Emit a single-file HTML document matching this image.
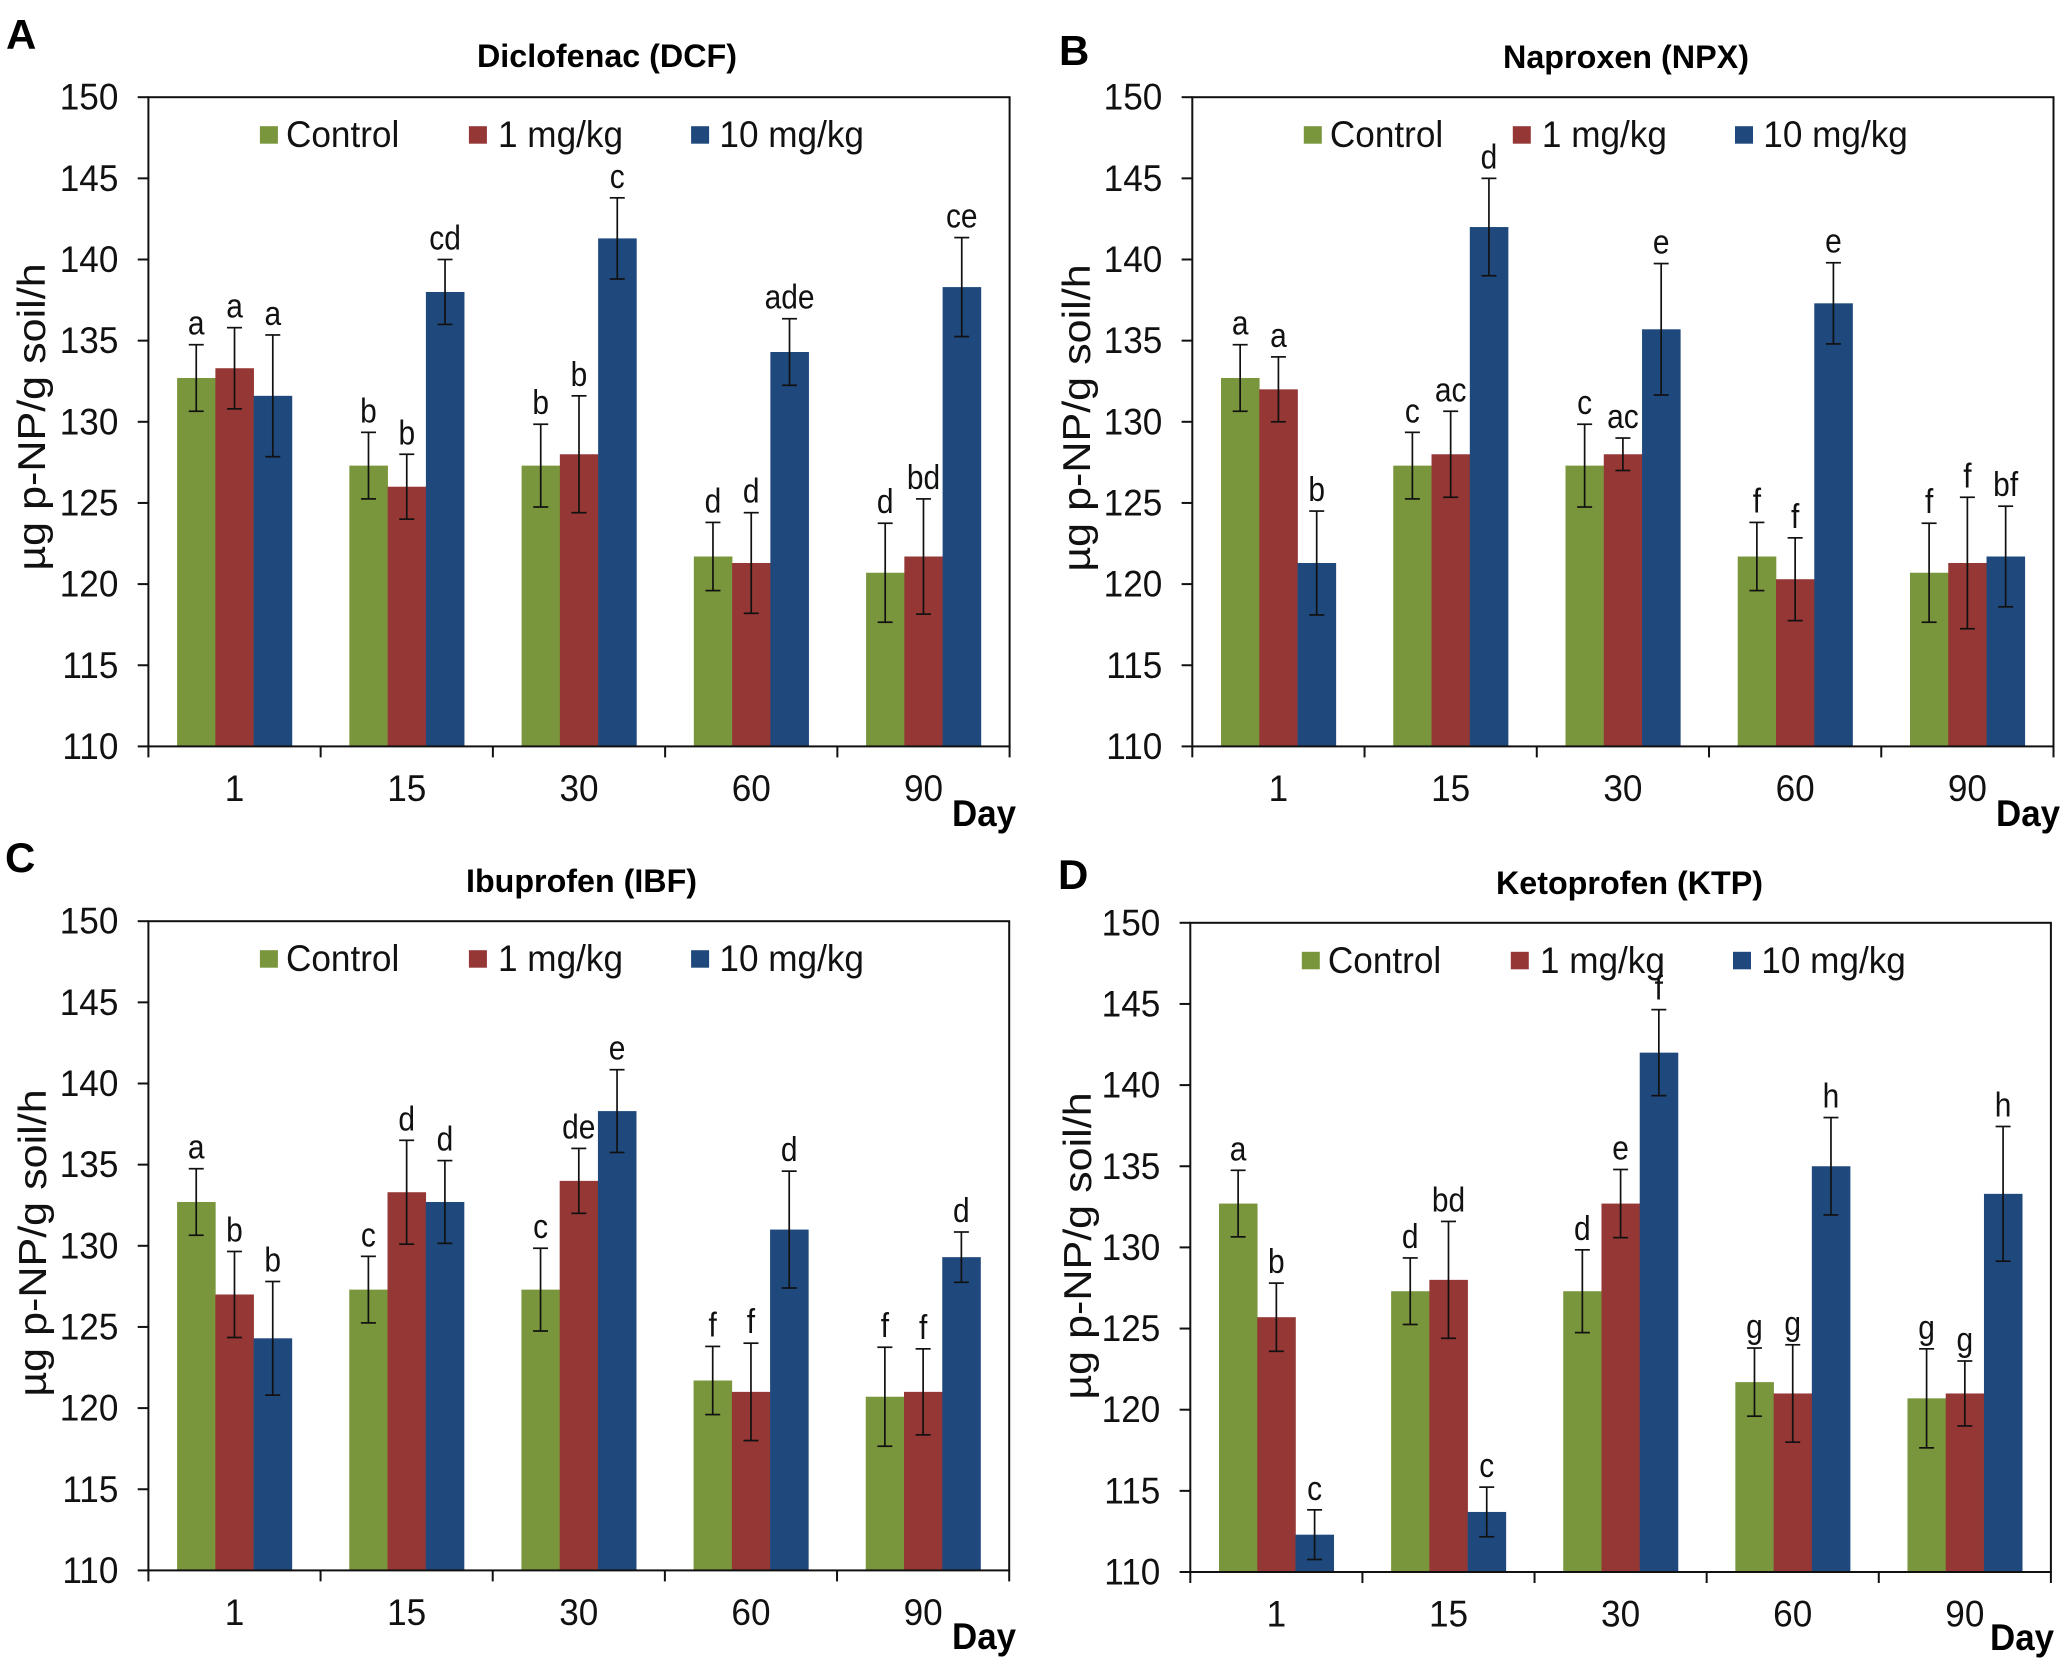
<!DOCTYPE html>
<html lang="en">
<head>
<meta charset="utf-8">
<title>Soil enzyme activity under NSAID exposure</title>
<style>
  html, body { margin: 0; padding: 0; background: #fff; }
  svg { display: block; }
  text { font-family: "Liberation Sans", Arial, sans-serif; fill: #111; }
  .panel-letter { font-size: 42px; font-weight: bold; fill: #000; }
  .panel-title { font-size: 32px; font-weight: bold; fill: #000; }
  .legend-text { font-size: 37px; }
  .y-title { font-size: 39px; text-anchor: middle; }
  .day { font-size: 37px; font-weight: bold; text-anchor: end; fill: #000; }
  .tick { font-size: 37px; }
  .sig { font-size: 34px; text-anchor: middle; }
</style>
</head>
<body>
<svg id="figure" xmlns="http://www.w3.org/2000/svg" width="2068" height="1666" viewBox="0 0 2068 1666">
  <rect x="0" y="0" width="2068" height="1666" fill="#fff"/>

  <g id="panel-a">
    <text class="panel-letter" x="6" y="49">A</text>
    <text class="panel-title" x="477" y="67" textLength="260" lengthAdjust="spacingAndGlyphs">Diclofenac (DCF)</text>
    <text class="y-title" transform="translate(45,417) rotate(-90) scale(1.105,1)">µg p-NP/g soil/h</text>
    <text class="day" x="1016" y="826" textLength="64" lengthAdjust="spacingAndGlyphs">Day</text>
  </g>
  <g id="panel-b">
    <text class="panel-letter" x="1059" y="65">B</text>
    <text class="panel-title" x="1503" y="68" textLength="246" lengthAdjust="spacingAndGlyphs">Naproxen (NPX)</text>
    <text class="y-title" transform="translate(1090,418) rotate(-90) scale(1.105,1)">µg p-NP/g soil/h</text>
    <text class="day" x="2060" y="826" textLength="64" lengthAdjust="spacingAndGlyphs">Day</text>
  </g>
  <g id="panel-c">
    <text class="panel-letter" x="5" y="872">C</text>
    <text class="panel-title" x="466" y="892" textLength="231" lengthAdjust="spacingAndGlyphs">Ibuprofen (IBF)</text>
    <text class="y-title" transform="translate(46,1243) rotate(-90) scale(1.105,1)">µg p-NP/g soil/h</text>
    <text class="day" x="1016" y="1649" textLength="64" lengthAdjust="spacingAndGlyphs">Day</text>
  </g>
  <g id="panel-d">
    <text class="panel-letter" x="1058" y="889">D</text>
    <text class="panel-title" x="1496" y="894" textLength="267" lengthAdjust="spacingAndGlyphs">Ketoprofen (KTP)</text>
    <text class="y-title" transform="translate(1091,1246) rotate(-90) scale(1.105,1)">µg p-NP/g soil/h</text>
    <text class="day" x="2054" y="1650" textLength="64" lengthAdjust="spacingAndGlyphs">Day</text>
  </g>
</svg>

<script>
// ---- shared categories and ticks ----
const dayLabels = ["1", "15", "30", "60", "90"];
const yTickLabels = [110, 115, 120, 125, 130, 135, 140, 145, 150];
const seriesNames = ["Control", "1 mg/kg", "10 mg/kg"];

// ---- control series (same across panels) ----
const controlValues = [132.7, 127.3, 127.3, 121.7, 120.7];
const controlErrors = [2.05, 2.05, 2.55, 2.1, 3.05];

// ---- Diclofenac ----
const dcfLow = [133.3, 126, 128, 121.3, 121.7];
const dcfLowErrors = [2.5, 2, 3.6, 3.1, 3.55];
const dcfHigh = [131.6, 138, 141.3, 134.3, 138.3];
const dcfHighErrors = [3.75, 2, 2.5, 2.05, 3.05];
const dcfControlLetters = ["a", "b", "b", "d", "d"];
const dcfLowLetters = ["a", "b", "b", "d", "bd"];
const dcfHighLetters = ["a", "cd", "c", "ade", "ce"];

// ---- Naproxen ----
const npxLow = [132, 128, 128, 120.3, 121.3];
const npxLowErrors = [2, 2.65, 1, 2.55, 4.05];
const npxHigh = [121.3, 142, 135.7, 137.3, 121.7];
const npxHighErrors = [3.2, 3, 4.05, 2.5, 3.1];
const npxControlLetters = ["a", "c", "c", "f", "f"];
const npxLowLetters = ["a", "ac", "ac", "f", "f"];
const npxHighLetters = ["b", "d", "e", "e", "bf"];

// ---- Ibuprofen ----
const ibfLow = [127, 133.3, 134, 121, 121];
const ibfLowErrors = [2.65, 3.2, 2, 3, 2.65];
const ibfHigh = [124.3, 132.7, 138.3, 131, 129.3];
const ibfHighErrors = [3.5, 2.55, 2.55, 3.6, 1.55];
const ibfControlLetters = ["a", "c", "c", "f", "f"];
const ibfLowLetters = ["b", "d", "de", "f", "f"];
const ibfHighLetters = ["b", "d", "e", "d", "d"];

// ---- Ketoprofen ----
const ktpLow = [125.7, 128, 132.7, 121, 121];
const ktpLowErrors = [2.1, 3.6, 2.1, 3, 2];
const ktpHigh = [112.3, 113.7, 142, 135, 133.3];
const ktpHighErrors = [1.53, 1.53, 2.65, 3, 4.15];
const ktpControlLetters = ["a", "d", "d", "g", "g"];
const ktpLowLetters = ["b", "bd", "e", "g", "g"];
const ktpHighLetters = ["c", "c", "f", "h", "h"];

// ---- styling and layout (not data) ----
const SVG_NS = "http://www.w3.org/2000/svg";
const seriesColors = ["#7A963C", "#953735", "#1F497D"];
const seriesKeys = ["control", "1-mg-kg", "10-mg-kg"];
const Y_MIN = 110;
const Y_MAX = 150;
const TEXT_SQUEEZE = 0.95;

const panels = [
  { key: "a", left: 148.4, right: 1009.6, top: 97.2, bottom: 746.4,
    values: [controlValues, dcfLow, dcfHigh],
    errors: [controlErrors, dcfLowErrors, dcfHighErrors],
    letters: [dcfControlLetters, dcfLowLetters, dcfHighLetters] },
  { key: "b", left: 1192.3, right: 2053.5, top: 97.2, bottom: 746.4,
    values: [controlValues, npxLow, npxHigh],
    errors: [controlErrors, npxLowErrors, npxHighErrors],
    letters: [npxControlLetters, npxLowLetters, npxHighLetters] },
  { key: "c", left: 148.4, right: 1009.2, top: 921.2, bottom: 1570.4,
    values: [controlValues, ibfLow, ibfHigh],
    errors: [controlErrors, ibfLowErrors, ibfHighErrors],
    letters: [ibfControlLetters, ibfLowLetters, ibfHighLetters] },
  { key: "d", left: 1190.3, right: 2050.9, top: 922.8, bottom: 1572,
    values: [controlValues, ktpLow, ktpHigh],
    errors: [controlErrors, ktpLowErrors, ktpHighErrors],
    letters: [ktpControlLetters, ktpLowLetters, ktpHighLetters] }
];

function create(tag, parent) {
  const node = document.createElementNS(SVG_NS, tag);
  parent.appendChild(node);
  return node;
}

function drawLine(node, x1, y1, x2, y2, width, color) {
  node.setAttribute("x1", x1);
  node.setAttribute("y1", y1);
  node.setAttribute("x2", x2);
  node.setAttribute("y2", y2);
  node.setAttribute("stroke", color);
  node.setAttribute("stroke-width", width);
}

function squeezed(x, y) {
  return "translate(" + x + "," + y + ") scale(" + TEXT_SQUEEZE + ",1)";
}

function drawPanel(panel) {
  const root = document.getElementById("panel-" + panel.key);
  const yScale = function (v) {
    return panel.bottom - (v - Y_MIN) / (Y_MAX - Y_MIN) * (panel.bottom - panel.top);
  };
  const catWidth = (panel.right - panel.left) / dayLabels.length;
  const barWidth = catWidth * 0.2222;
  const xBand = function (c, s) {
    return panel.left + catWidth * c + (catWidth - barWidth * seriesNames.length) / 2 + barWidth * s;
  };

  // bars
  panel.values.forEach(function (series, s) {
    series.forEach(function (v, c) {
      const bar = create("rect", root);
      
      
      bar.setAttribute("x", xBand(c, s));
      bar.setAttribute("y", yScale(v));
      bar.setAttribute("width", barWidth + 0.3);
      bar.setAttribute("height", panel.bottom - yScale(v));
      bar.setAttribute("fill", seriesColors[s]);
    });
  });

  // error bars and significance letters
  panel.values.forEach(function (series, s) {
    series.forEach(function (v, c) {
      const err = panel.errors[s][c];
      const cx = xBand(c, s) + barWidth / 2;
      const yHi = yScale(v + err);
      const yLo = yScale(v - err);

      const stem = create("line", root);
      
      
      drawLine(stem, cx, yHi, cx, yLo, 1.7, "#111");

      const capTop = create("line", root);
      
      
      drawLine(capTop, cx - 7.5, yHi, cx + 7.5, yHi, 1.7, "#111");

      const capBottom = create("line", root);
      
      
      drawLine(capBottom, cx - 7.5, yLo, cx + 7.5, yLo, 1.7, "#111");

      const sig = create("text", root);
      
      
      sig.setAttribute("class", "sig");
      sig.setAttribute("transform", "translate(" + cx + "," + (yHi - 10) + ") scale(0.88,1)");
      sig.textContent = panel.letters[s][c];
    });
  });

  // plot frame
  const frame = create("rect", root);
  
  
  frame.setAttribute("x", panel.left);
  frame.setAttribute("y", panel.top);
  frame.setAttribute("width", panel.right - panel.left);
  frame.setAttribute("height", panel.bottom - panel.top);
  frame.setAttribute("fill", "none");
  frame.setAttribute("stroke", "#111");
  frame.setAttribute("stroke-width", 2);

  // y axis
  yTickLabels.forEach(function (t) {
    const y = yScale(t);
    const tick = create("line", root);
    
    
    drawLine(tick, panel.left - 10.7, y, panel.left, y, 2, "#111");

    const label = create("text", root);
    
    
    label.setAttribute("class", "tick");
    label.setAttribute("text-anchor", "end");
    label.setAttribute("transform", squeezed(panel.left - 30, y + 12.5));
    label.textContent = t;
  });

  // x axis
  for (let k = 0; k <= dayLabels.length; k++) {
    const x = panel.left + catWidth * k;
    const tick = create("line", root);
    
    
    drawLine(tick, x, panel.bottom, x, panel.bottom + 11, 2, "#111");
  }
  dayLabels.forEach(function (d, c) {
    const label = create("text", root);
    
    
    label.setAttribute("class", "tick");
    label.setAttribute("text-anchor", "middle");
    label.setAttribute("transform", squeezed(panel.left + catWidth * (c + 0.5), panel.bottom + 54.5));
    label.textContent = d;
  });

  // legend
  const swatchOffsets = [111.5, 320.5, 542.7];
  const textOffsets = [137.6, 349.6, 571];
  seriesNames.forEach(function (name, s) {
    const swatch = create("rect", root);
    
    
    swatch.setAttribute("x", panel.left + swatchOffsets[s]);
    swatch.setAttribute("y", panel.top + 29);
    swatch.setAttribute("width", 18);
    swatch.setAttribute("height", 17.5);
    swatch.setAttribute("fill", seriesColors[s]);

    const entry = create("text", root);
    
    
    entry.setAttribute("class", "legend-text");
    entry.setAttribute("transform", squeezed(panel.left + textOffsets[s], panel.top + 50));
    entry.textContent = name;
  });
}

panels.forEach(drawPanel);
</script>
</body>
</html>
